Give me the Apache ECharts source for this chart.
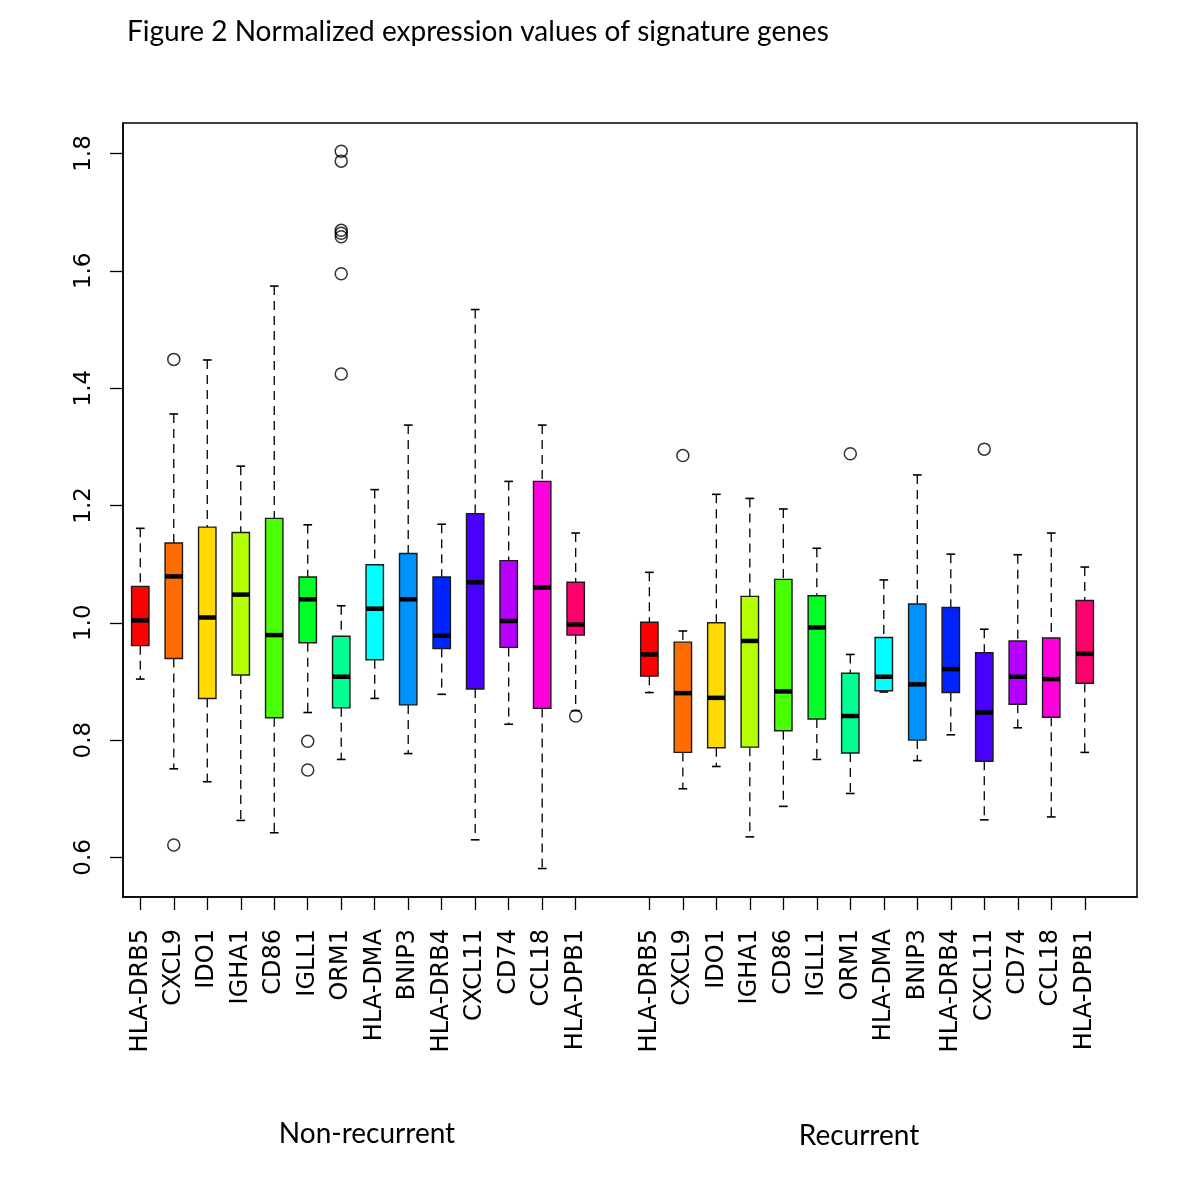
<!DOCTYPE html>
<html>
<head>
<meta charset="utf-8">
<title>Figure 2 Normalized expression values of signature genes</title>
<script src="https://cdn.jsdelivr.net/npm/echarts@6/dist/echarts.min.js"></script>
<style>
  html, body { margin: 0; padding: 0; background: #fff; }
  #chart { width: 1200px; height: 1200px; }
</style>
</head>
<body>
<div id="chart"></div>
<script>
// gene names (same order in both groups)
const genes = ['HLA-DRB5', 'CXCL9', 'IDO1', 'IGHA1', 'CD86', 'IGLL1', 'ORM1',
  'HLA-DMA', 'BNIP3', 'HLA-DRB4', 'CXCL11', 'CD74', 'CCL18', 'HLA-DPB1']
const groups = ['Non-recurrent', 'Recurrent']

// R rainbow(14)
const geneColors = ['#FF0000', '#FF6D00', '#FFDB00', '#B6FF00', '#49FF00', '#00FF24', '#00FF92',
  '#00FFFF', '#0092FF', '#0024FF', '#4900FF', '#B600FF', '#FF00DB', '#FF006D']

// box stats: [lower whisker, Q1, median, Q3, upper whisker]
const nonRecurrentStats = [
  [0.904, 0.961, 1.004, 1.062, 1.161],
  [0.751, 0.939, 1.079, 1.136, 1.356],
  [0.729, 0.871, 1.009, 1.163, 1.448],
  [0.663, 0.911, 1.048, 1.154, 1.267],
  [0.642, 0.838, 0.979, 1.178, 1.574],
  [0.847, 0.966, 1.040, 1.078, 1.167],
  [0.767, 0.855, 0.908, 0.977, 1.029],
  [0.871, 0.937, 1.024, 1.099, 1.227],
  [0.777, 0.860, 1.040, 1.118, 1.337],
  [0.878, 0.956, 0.978, 1.078, 1.168],
  [0.630, 0.887, 1.069, 1.186, 1.534],
  [0.827, 0.958, 1.003, 1.106, 1.241],
  [0.581, 0.854, 1.060, 1.241, 1.337],
  [0.850, 0.979, 0.997, 1.069, 1.153]
]
const recurrentStats = [
  [0.881, 0.909, 0.946, 1.001, 1.086],
  [0.717, 0.779, 0.880, 0.967, 0.986],
  [0.755, 0.787, 0.872, 1.000, 1.219],
  [0.635, 0.788, 0.969, 1.045, 1.212],
  [0.687, 0.816, 0.883, 1.074, 1.194],
  [0.767, 0.836, 0.992, 1.046, 1.127],
  [0.709, 0.778, 0.841, 0.914, 0.946],
  [0.882, 0.884, 0.908, 0.975, 1.073],
  [0.765, 0.800, 0.895, 1.032, 1.252],
  [0.809, 0.881, 0.921, 1.026, 1.117],
  [0.664, 0.764, 0.847, 0.949, 0.989],
  [0.821, 0.861, 0.908, 0.969, 1.116],
  [0.669, 0.839, 0.904, 0.974, 1.153],
  [0.779, 0.897, 0.947, 1.038, 1.095]
]

// outliers: [gene index, value]
const nonRecurrentOutliers = [
  [1, 1.449], [1, 0.621],
  [5, 0.798], [5, 0.749],
  [6, 1.804], [6, 1.787], [6, 1.669], [6, 1.664], [6, 1.658], [6, 1.595], [6, 1.424],
  [13, 0.841]
]
const recurrentOutliers = [
  [1, 1.285], [6, 1.288], [10, 1.296]
]

const yTicks = [0.6, 0.8, 1.0, 1.2, 1.4, 1.6, 1.8]

// layout of the boxes along x
const groupStart = [1, 16.2]
const boxWidth = 0.52

const posOf = (g, i) => groupStart[g] + i
const allPositions = []
const labelByPos = {}
;[nonRecurrentStats, recurrentStats].forEach((stats, g) => {
  stats.forEach((s, i) => {
    const p = posOf(g, i)
    allPositions.push(p)
    labelByPos[p.toFixed(2)] = genes[i]
  })
})

const boxData = []
;[nonRecurrentStats, recurrentStats].forEach((stats, g) => {
  stats.forEach((s, i) => {
    boxData.push([posOf(g, i), ...s, i])
  })
})
const outlierData = []
;[nonRecurrentOutliers, recurrentOutliers].forEach((list, g) => {
  list.forEach(([i, v]) => outlierData.push([posOf(g, i), v]))
})

// whiskers, box and median for one gene
const renderBox = (params, api) => {
  const x = api.value(0)
  const yOf = (k) => api.coord([x, api.value(k)])[1]
  const cx = api.coord([x, 0])[0]
  const yLo = yOf(1), yQ1 = yOf(2), yMed = yOf(3), yQ3 = yOf(4), yHi = yOf(5)
  const w = api.size([boxWidth, 0])[0]
  const cap = w / 2
  const color = geneColors[api.value(6)]
  const dash = { stroke: '#000', lineWidth: 1.3, lineDash: [9, 6] }
  const solid = { stroke: '#000', lineWidth: 1.6 }
  return {
    type: 'group',
    children: [
      { type: 'line', shape: { x1: cx, y1: yHi, x2: cx, y2: yQ3 }, style: dash },
      { type: 'line', shape: { x1: cx, y1: yQ1, x2: cx, y2: yLo }, style: dash },
      { type: 'line', shape: { x1: cx - cap / 2, y1: yHi, x2: cx + cap / 2, y2: yHi }, style: solid },
      { type: 'line', shape: { x1: cx - cap / 2, y1: yLo, x2: cx + cap / 2, y2: yLo }, style: solid },
      { type: 'rect', shape: { x: cx - w / 2, y: yQ3, width: w, height: yQ1 - yQ3 },
        style: { fill: color, stroke: '#1a1a1a', lineWidth: 1.4 } },
      { type: 'line', shape: { x1: cx - w / 2, y1: yMed, x2: cx + w / 2, y2: yMed },
        style: { stroke: '#000', lineWidth: 4.5 } }
    ]
  }
}

const chart = echarts.init(document.getElementById('chart'), null, { renderer: 'canvas' })

const option = {
  backgroundColor: '#fff',
  animation: false,
  grid: {
    left: 123, top: 123, right: 63, bottom: 303,
    show: true, borderColor: '#000', borderWidth: 1.5
  },
  xAxis: {
    type: 'value',
    min: 0.484,
    max: 30.76,
    splitLine: { show: false },
    axisLine: { show: true, lineStyle: { color: '#000', width: 1.5 } },
    axisTick: {
      show: true, length: 13, customValues: allPositions,
      lineStyle: { color: '#000', width: 1.3 }
    },
    axisLabel: {
      show: true, customValues: allPositions, rotate: 90, margin: 32,
      fontFamily: 'DejaVu Sans', fontSize: 24, color: '#000',
      formatter: (v) => labelByPos[v.toFixed(2)] || ''
    }
  },
  yAxis: {
    type: 'value',
    min: 0.5325,
    max: 1.852,
    splitLine: { show: false },
    axisLine: { show: true, lineStyle: { color: '#000', width: 1.5 } },
    axisTick: {
      show: true, length: 13, customValues: yTicks,
      lineStyle: { color: '#000', width: 1.3 }
    },
    axisLabel: {
      show: true, customValues: yTicks, rotate: 90, margin: 27,
      fontFamily: 'DejaVu Sans', fontSize: 23, color: '#000',
      formatter: (v) => v.toFixed(1)
    }
  },
  graphic: [
    {
      type: 'text', x: 127, y: 32,
      style: { text: 'Figure 2 Normalized expression values of signature genes',
        font: '28px Lato', fill: '#000', align: 'left', verticalAlign: 'middle' }
    },
    {
      type: 'text', x: 367, y: 1134,
      style: { text: groups[0], font: '28px Lato', fill: '#000', align: 'center', verticalAlign: 'middle' }
    },
    {
      type: 'text', x: 859, y: 1136,
      style: { text: groups[1], font: '28px Lato', fill: '#000', align: 'center', verticalAlign: 'middle' }
    }
  ],
  series: [
    {
      type: 'custom',
      name: 'boxes',
      renderItem: renderBox,
      encode: { x: 0, y: [1, 2, 3, 4, 5] },
      data: boxData,
      clip: false
    },
    {
      type: 'scatter',
      name: 'outliers',
      symbol: 'circle',
      symbolSize: 12,
      itemStyle: { color: 'rgba(0,0,0,0)', borderColor: '#000', borderWidth: 1.5 },
      data: outlierData
    }
  ]
}

chart.setOption(option)
</script>
</body>
</html>
